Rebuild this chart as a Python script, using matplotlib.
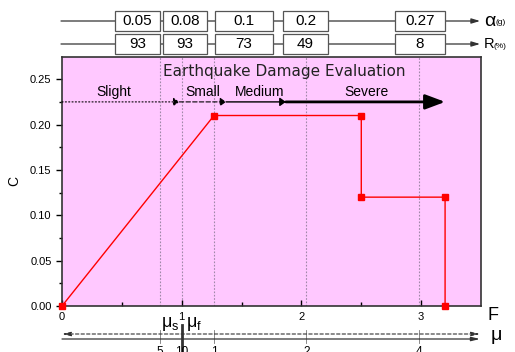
import matplotlib
matplotlib.use("Agg")
import matplotlib.pyplot as plt
from matplotlib.patches import Rectangle
from matplotlib.transforms import blended_transform_factory

# Capacity curve (F, C)
curve_F = [0.0, 1.27, 2.5, 2.5, 3.2, 3.2]
curve_C = [0.0, 0.21, 0.21, 0.12, 0.12, 0.0]

# Damage-level reference lines on the F axis
ref_F = [0.815, 1.0, 1.27, 2.04, 2.98]
mu_labels = ["5", "10", "1", "2", "4"]

# Peak ground acceleration and reliability tables
alpha_labels = ["0.05", "0.08", "0.1", "0.2", "0.27"]
R_labels = ["93", "93", "73", "49", "8"]
box_edges = [(0.443, 0.819), (0.844, 1.211), (1.278, 1.763), (1.846, 2.222), (2.782, 3.2)]

# Damage grades along the top
grade_names = ["Slight", "Small", "Medium", "Severe"]
grade_text_x = [0.43, 1.18, 1.65, 2.54]
grade_span = [(0.0, 0.98), (0.98, 1.37), (1.37, 1.87), (1.87, 3.2)]

W, H = 515, 352
plt.rcParams["font.family"] = ["Liberation Sans", "DejaVu Sans"]
plt.rcParams["mathtext.fontset"] = "custom"
plt.rcParams["mathtext.rm"] = "Liberation Sans"
plt.rcParams["mathtext.it"] = "Liberation Sans"
fig = plt.figure(figsize=(W / 100, H / 100), dpi=100)


def fy(py):
    return 1 - py / H


ax = fig.add_axes([62 / W, fy(306), (481 - 62) / W, (306 - 57) / H])
ax.set_facecolor("#ffc8ff")
ax.set_xlim(0, 3.5)
ax.set_ylim(0, 0.2745)

# reference lines
for xv in ref_F:
    ax.axvline(xv, color="#a088a8", lw=0.8, ls=(0, (1.5, 1.5)), zorder=1)

ax.plot(curve_F, curve_C, color="red", lw=1.0, marker="s", ms=4.5,
        mec="red", mfc="red", zorder=3, clip_on=False)

ax.set_xticks([0, 1, 2, 3])
ax.set_xticks([0.5, 1.5, 2.5], minor=True)
ax.set_yticks([0, 0.05, 0.10, 0.15, 0.20, 0.25])
ax.set_yticks([0.025, 0.075, 0.125, 0.175, 0.225], minor=True)
ax.set_yticklabels(["0.00", "0.05", "0.10", "0.15", "0.20", "0.25"])
ax.tick_params(axis="x", direction="in", length=4, width=1, labelsize=8, pad=4)
ax.tick_params(axis="x", which="minor", direction="in", length=3, width=1)
ax.tick_params(axis="y", direction="out", length=4, width=1, labelsize=8)
ax.tick_params(axis="y", which="minor", direction="out", length=2.5, width=1)
for sp in ax.spines.values():
    sp.set_color("#333333")
    sp.set_linewidth(1.2)
ax.set_ylabel("C", fontsize=10)
ax.yaxis.set_label_coords(-(62 - 21) / 419, 0.5)

ax.text(1.855, 0.258, "Earthquake Damage Evaluation", ha="center", va="center",
        fontsize=11, family=["DejaVu Sans"], color="#222222")

# grade arrows
y_arr = 0.225
styles = [(0, (1, 2)), (0, (4, 2)), "-", "-"]
widths = [0.8, 0.8, 1.0, 2.0]
heads = [(0.35, 0.25), (0.35, 0.25), (0.35, 0.25), (1.2, 0.45)]
for (x0, x1), lsty, lw, (hl, hw) in zip(grade_span, styles, widths, heads):
    ax.annotate("", xy=(x1, y_arr), xytext=(x0, y_arr),
                arrowprops=dict(arrowstyle=f"-|>,head_length={hl},head_width={hw}",
                                color="black", lw=lw, linestyle=lsty,
                                shrinkA=0, shrinkB=0))
for name, tx in zip(grade_names, grade_text_x):
    ax.text(tx, 0.2313, name, ha="center", va="baseline", fontsize=10)

# top tables
bt = blended_transform_factory(ax.transData, fig.transFigure)
x_left = (61 - 62) / 119.7
x_right = (480 - 62) / 119.7
rows = [(21, alpha_labels, "α", 14, "(g)", 496),
        (44, R_labels, "R", 10.5, "(%)", 494)]
for row_py, labels, main, main_fs, sub, sub_px in rows:
    yy = fy(row_py)
    ax.annotate("", xy=(x_right, yy), xytext=(x_left, yy), xycoords=bt, textcoords=bt,
                arrowprops=dict(arrowstyle="-|>,head_length=0.5,head_width=0.15",
                                color="#333333", lw=0.9, shrinkA=0, shrinkB=0),
                annotation_clip=False)
    hh = 20 / H
    for (b0, b1), lab in zip(box_edges, labels):
        ax.add_patch(Rectangle((b0, yy - hh / 2), b1 - b0, hh, transform=bt,
                               facecolor="white", edgecolor="#555555", lw=0.9,
                               clip_on=False, zorder=5))
        ax.text((b0 + b1) / 2, yy, lab, transform=bt, ha="center", va="center",
                fontsize=11, zorder=6)
    fig.text(484 / W, yy, main, ha="left", va="center", fontsize=main_fs)
    fig.text(sub_px / W, fy(row_py + 2), sub, ha="left", va="center", fontsize=6)

# F axis label
fig.text(493 / W, fy(315), "F", ha="center", va="center", fontsize=13)

# ductility axis
y_dash = fy(334)
y_sol = fy(339)
ax.annotate("", xy=(x_right, y_dash), xytext=(0.0, y_dash), xycoords=bt, textcoords=bt,
            arrowprops=dict(arrowstyle="<|-|>,head_length=0.5,head_width=0.12",
                            color="#333333", lw=0.8, linestyle=(0, (3, 2)),
                            shrinkA=0, shrinkB=0), annotation_clip=False)
ax.annotate("", xy=(x_right, y_sol), xytext=(0.0, y_sol), xycoords=bt, textcoords=bt,
            arrowprops=dict(arrowstyle="-|>,head_length=0.5,head_width=0.12",
                            color="#333333", lw=0.9, shrinkA=0, shrinkB=0),
            annotation_clip=False)
for xv, lab in zip(ref_F, mu_labels):
    if lab == "10":
        ax.plot([xv, xv], [fy(325), fy(352)], transform=bt, color="#333333",
                lw=2.0, clip_on=False)
    else:
        ax.plot([xv, xv], [fy(330), fy(343)], transform=bt, color="#777777",
                lw=0.6, clip_on=False)
    ax.text(xv, fy(346), lab, transform=bt, ha="center", va="top", fontsize=8.5)
ax.text(0.90, fy(324), r"$\mathregular{\mu_s}$", transform=bt, ha="center",
        va="center", fontsize=13)
ax.text(1.10, fy(324), r"$\mathregular{\mu_f}$", transform=bt, ha="center",
        va="center", fontsize=13)
fig.text(496 / W, fy(337), r"$\mathregular{\mu}$", ha="center", va="center", fontsize=14)

fig.savefig("out.png", dpi=100)
